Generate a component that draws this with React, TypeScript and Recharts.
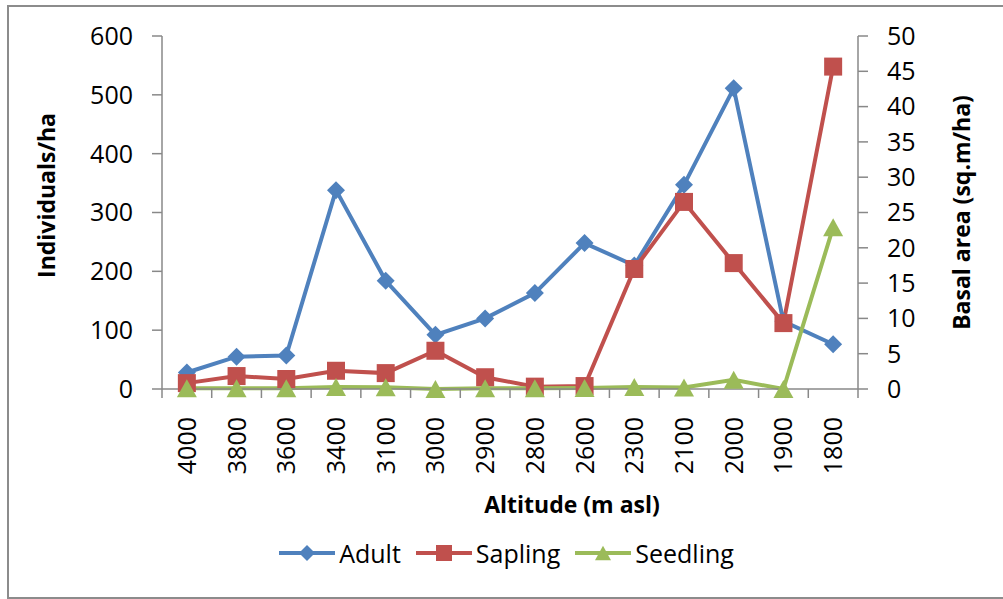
import React from "react";
import { LineChart, Line, XAxis, YAxis, Legend } from "recharts";

const categories = ["4000", "3800", "3600", "3400", "3100", "3000", "2900", "2800", "2600", "2300", "2100", "2000", "1900", "1800"];
// Individuals/ha (left axis)
const adult = [28, 55, 57, 338, 184, 92, 120, 163, 248, 210, 347, 511, 115, 76];
const sapling = [10, 22, 17, 31, 27, 65, 20, 4, 5, 204, 318, 214, 112, 548];
// read against the right axis
const seedling = [0.1, 0.1, 0.1, 0.3, 0.25, 0, 0.1, 0.1, 0.15, 0.3, 0.2, 1.3, 0, 22.9];
const leftTicks = [0, 100, 200, 300, 400, 500, 600];
const rightTicks = [0, 5, 10, 15, 20, 25, 30, 35, 40, 45, 50];

const data = categories.map((c, i) => ({
  altitude: c,
  Adult: adult[i],
  Sapling: sapling[i],
  Seedling: seedling[i],
}));

const FONT = "'Open Sans', sans-serif";
const AXIS = "#888888";
const BLUE = "#4F81BD";
const RED = "#C0504D";
const GREEN = "#9BBB59";

const W = 1003;
const H = 599;
const PLOT_LEFT = 162;
const PLOT_RIGHT = 858;
const BAND = (PLOT_RIGHT - PLOT_LEFT) / categories.length;
const TICK_SIZE = 9;
const TICK_MARGIN = 19;

function Diamond({ cx, cy, fill, s = 9 }: any) {
  if (cx == null || cy == null) return null;
  return <polygon points={`${cx},${cy - s} ${cx + s},${cy} ${cx},${cy + s} ${cx - s},${cy}`} fill={fill} />;
}

function Square({ cx, cy, fill, s = 9 }: any) {
  if (cx == null || cy == null) return null;
  return <rect x={cx - s} y={cy - s} width={s * 2} height={s * 2} fill={fill} />;
}

function Triangle({ cx, cy, fill, s = 10 }: any) {
  if (cx == null || cy == null) return null;
  const h = s * 1.8;
  return <polygon points={`${cx},${cy - h / 2} ${cx + s},${cy + h / 2} ${cx - s},${cy + h / 2}`} fill={fill} />;
}

function XTick({ x, y, payload, index }: any) {
  const y0 = y - TICK_MARGIN - TICK_SIZE;
  const y1 = y - TICK_MARGIN;
  const last = index === categories.length - 1;
  return (
    <g>
      <line x1={x - BAND / 2} x2={x - BAND / 2} y1={y0} y2={y1} stroke={AXIS} strokeWidth={1.5} />
      {last && <line x1={x + BAND / 2} x2={x + BAND / 2} y1={y0} y2={y1} stroke={AXIS} strokeWidth={1.5} />}
      <text
        x={x}
        y={y}
        transform={`rotate(-90 ${x} ${y})`}
        textAnchor="end"
        dy="0.36em"
        fontFamily={FONT}
        fontSize={25}
        fill="#000"
      >
        {payload.value}
      </text>
    </g>
  );
}

const legendItems = [
  { name: "Adult", color: BLUE, Marker: Diamond },
  { name: "Sapling", color: RED, Marker: Square },
  { name: "Seedling", color: GREEN, Marker: Triangle },
];

function LegendContent() {
  return (
    <div style={{ display: "flex", justifyContent: "center", alignItems: "center", height: 40, paddingLeft: 10, fontFamily: FONT, fontSize: 25, color: "#000" }}>
      {legendItems.map(({ name, color, Marker }, i) => (
        <div key={name} style={{ display: "flex", alignItems: "center", marginLeft: i === 0 ? 0 : 15 }}>
          <svg width={56} height={22}>
            <line x1={0} x2={56} y1={11} y2={11} stroke={color} strokeWidth={4} />
            <Marker cx={28} cy={11} fill={color} s={8} />
          </svg>
          <span style={{ marginLeft: 4, lineHeight: "40px" }}>{name}</span>
        </div>
      ))}
    </div>
  );
}

export default function App() {
  return (
    <div style={{ position: "absolute", left: 0, top: 0, width: W, height: H, background: "#fff", overflow: "hidden" }}>
      <div
        style={{
          position: "absolute",
          left: 7,
          top: 5,
          width: 1010,
          height: 594,
          border: "2px solid #8c8c8c",
          boxSizing: "border-box",
        }}
      />
      <div style={{ position: "absolute", left: 0, top: 0 }}>
        <LineChart width={W} height={H} data={data} margin={{ top: 36, right: 0, left: 0, bottom: 26 }}>
          <XAxis
            dataKey="altitude"
            height={144}
            padding={{ left: BAND / 2, right: BAND / 2 }}
            tickLine={false}
            tickSize={TICK_SIZE}
            tickMargin={TICK_MARGIN}
            axisLine={{ stroke: AXIS, strokeWidth: 1.5 }}
            tick={<XTick />}
            interval={0}
            label={{
              content: ({ viewBox }: any) => (
                <text
                  x={viewBox.x + viewBox.width / 2 + 62}
                  y={viewBox.y + 124}
                  textAnchor="middle"
                  fontFamily={FONT}
                  fontSize={23}
                  fontWeight="bold"
                  fill="#000"
                >
                  Altitude (m asl)
                </text>
              ),
            }}
          />
          <YAxis
            yAxisId="left"
            width={PLOT_LEFT}
            domain={[0, 600]}
            ticks={leftTicks}
            interval={0}
            tickSize={10}
            tickMargin={19}
            axisLine={{ stroke: AXIS, strokeWidth: 1.5 }}
            tickLine={{ stroke: AXIS, strokeWidth: 1.5 }}
            tick={{ fontFamily: FONT, fontSize: 25, fill: "#000" }}
            label={{
              content: ({ viewBox }: any) => {
                const x = viewBox.x + 47;
                const y = viewBox.y + viewBox.height / 2 - 17;
                return (
                  <text
                    x={x}
                    y={y}
                    transform={`rotate(-90 ${x} ${y})`}
                    textAnchor="middle"
                    dy="0.36em"
                    fontFamily={FONT}
                    fontSize={23}
                    fontWeight="bold"
                    fill="#000"
                  >
                    Individuals/ha
                  </text>
                );
              },
            }}
          />
          <YAxis
            yAxisId="right"
            orientation="right"
            width={W - PLOT_RIGHT}
            domain={[0, 50]}
            ticks={rightTicks}
            interval={0}
            tickSize={10}
            tickMargin={19}
            axisLine={{ stroke: AXIS, strokeWidth: 1.5 }}
            tickLine={{ stroke: AXIS, strokeWidth: 1.5 }}
            tick={{ fontFamily: FONT, fontSize: 25, fill: "#000" }}
            label={{
              content: ({ viewBox }: any) => {
                const x = viewBox.x + 104;
                const y = viewBox.y + viewBox.height / 2;
                return (
                  <text
                    x={x}
                    y={y}
                    transform={`rotate(-90 ${x} ${y})`}
                    textAnchor="middle"
                    dy="0.36em"
                    fontFamily={FONT}
                    fontSize={23}
                    fontWeight="bold"
                    fill="#000"
                  >
                    Basal area (sq.m/ha)
                  </text>
                );
              },
            }}
          />
          <Legend verticalAlign="bottom" content={<LegendContent />} wrapperStyle={{ height: 40 }} />
          <Line yAxisId="left" dataKey="Adult" stroke={BLUE} strokeWidth={4} dot={<Diamond fill={BLUE} s={9} />} activeDot={false} isAnimationActive={false} />
          <Line yAxisId="left" dataKey="Sapling" stroke={RED} strokeWidth={4} dot={<Square fill={RED} s={9} />} activeDot={false} isAnimationActive={false} />
          <Line yAxisId="right" dataKey="Seedling" stroke={GREEN} strokeWidth={4} dot={<Triangle fill={GREEN} s={10} />} activeDot={false} isAnimationActive={false} />
        </LineChart>
      </div>
    </div>
  );
}
